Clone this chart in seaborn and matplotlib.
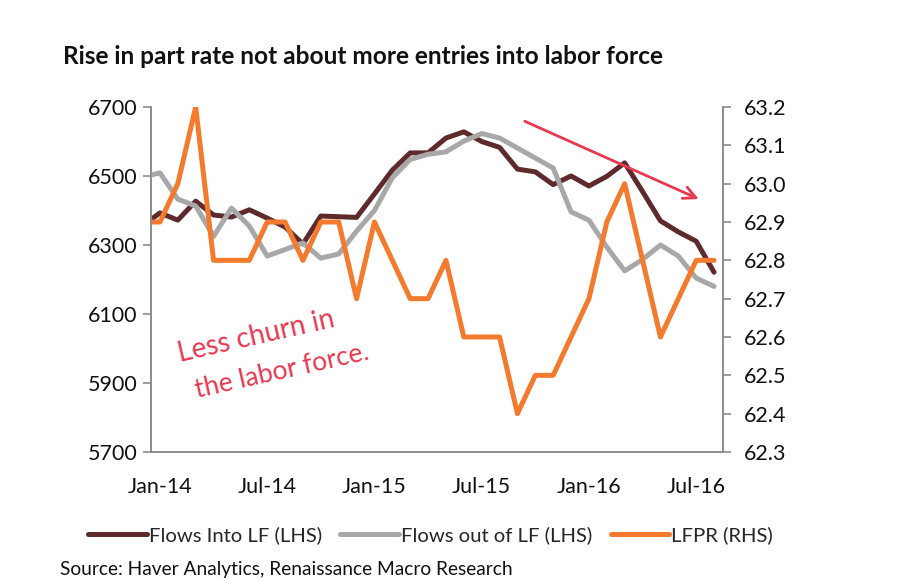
import pandas as pd
import matplotlib.pyplot as plt
import seaborn as sns

# monthly data, Dec-13 .. Aug-16 (Dec-13 only feeds the clipped edge of each line)
months = pd.date_range("2013-12-01", periods=33, freq="MS")
flows_into = [6355, 6393, 6372, 6427, 6387, 6381, 6402, 6378, 6352, 6303, 6384, 6382,
              6380, 6448, 6517, 6567, 6567, 6610, 6628, 6600, 6583, 6520, 6512, 6475,
              6500, 6471, 6499, 6538, 6455, 6370, 6338, 6311, 6221]
flows_out = [6497, 6509, 6433, 6413, 6325, 6407, 6355, 6268, 6287, 6306, 6262, 6274,
             6340, 6400, 6495, 6548, 6563, 6570, 6601, 6623, 6610, 6581, 6552, 6523,
             6396, 6372, 6294, 6225, 6258, 6300, 6268, 6204, 6180]
lfpr = [62.9, 62.9, 63.0, 63.2, 62.8, 62.8, 62.8, 62.9, 62.9, 62.8, 62.9, 62.9,
        62.7, 62.9, 62.8, 62.7, 62.7, 62.8, 62.6, 62.6, 62.6, 62.4, 62.5, 62.5,
        62.6, 62.7, 62.9, 63.0, 62.8, 62.6, 62.7, 62.8, 62.8]
tick_labels = ["Jan-14", "Jul-14", "Jan-15", "Jul-15", "Jan-16", "Jul-16"]

c_into = "#5e2a2b"
c_out = "#a8a8a8"
c_lfpr = "#f47a2e"
c_note = "#e8394f"
c_axis = "#8c8c8c"

df = pd.DataFrame({"month": months, "into": flows_into, "out": flows_out, "lfpr": lfpr})
df["m"] = range(-1, len(df) - 1)   # Jan-14 = 0

sns.set_style("white")
plt.rcParams["font.family"] = ["Lato", "DejaVu Sans"]

fig = plt.figure(figsize=(9.06, 5.8), dpi=100)
ax = fig.add_axes([151 / 906, 1 - 452 / 580, 572 / 906, 345 / 580])
ax2 = ax.twinx()

sns.lineplot(data=df, x="m", y="into", ax=ax, color=c_into, lw=3.6,
             label="Flows Into LF (LHS)", legend=False)
sns.lineplot(data=df, x="m", y="out", ax=ax, color=c_out, lw=3.6,
             label="Flows out of LF (LHS)", legend=False)
sns.lineplot(data=df, x="m", y="lfpr", ax=ax2, color=c_lfpr, lw=3.6,
             label="LFPR (RHS)", legend=False)

ax.set_xlim(-0.5, 31.5)
ax.set_ylim(5700, 6700)
ax2.set_ylim(62.3, 63.2)
ax.set_yticks(range(5700, 6701, 200))
ax2.set_yticks([62.3 + 0.1 * i for i in range(10)])
ax2.set_yticklabels([f"{62.3 + 0.1 * i:.1f}" for i in range(10)])

ax.set_xticks([0, 6, 12, 18, 24, 30])
ax.set_xticklabels(tick_labels)
ax.set_xticks([-0.5 + 6 * i for i in range(6)], minor=True)
ax.tick_params(axis="x", which="major", length=0, pad=18, labelsize=15.5, colors="#111111")
ax.tick_params(axis="x", which="minor", length=7, width=1.2, color=c_axis, direction="out")
ax.tick_params(axis="y", length=6, width=1.2, color=c_axis, direction="out", pad=4,
               labelsize=15.5, labelcolor="#111111")
ax2.tick_params(axis="y", length=6, width=1.2, color=c_axis, direction="out", pad=9,
                labelsize=15.5, labelcolor="#111111")
ax.tick_params(left=True, bottom=True)
ax2.tick_params(right=True)

for a in (ax, ax2):
    a.set_xlabel("")
    a.set_ylabel("")
    a.grid(False)
    a.spines["top"].set_visible(False)
    for s in ("left", "right", "bottom"):
        a.spines[s].set_color(c_axis)
        a.spines[s].set_linewidth(1.2)

# hand-drawn notes
ax.text(0.051, 0.261, "Less churn in", transform=ax.transAxes, color=c_note,
        fontsize=20, rotation=12.8, rotation_mode="anchor", va="baseline", ha="left")
ax.text(0.080, 0.157, "the labor force.", transform=ax.transAxes, color=c_note,
        fontsize=19, rotation=12.6, rotation_mode="anchor", va="baseline", ha="left")
ax.annotate("", xy=(0.962, 0.73), xytext=(0.649, 0.962), xycoords="axes fraction",
            arrowprops=dict(arrowstyle="->", color=c_note, lw=2, mutation_scale=22))

fig.text(63 / 906, 1 - 57 / 580, "Rise in part rate not about more entries into labor force",
         fontsize=17.6, fontweight="bold", va="center", ha="left", color="#111111")
fig.text(60 / 906, 1 - 569 / 580, "Source: Haver Analytics, Renaissance Macro Research",
         fontsize=13.8, va="center", ha="left", color="#111111")

h1, l1 = ax.get_legend_handles_labels()
h2, l2 = ax2.get_legend_handles_labels()
fig.legend(h1 + h2, l1 + l2, loc="center left", bbox_to_anchor=(88 / 906, 1 - 535 / 580),
           ncol=3, frameon=False, fontsize=14.6, handlelength=2.9, handletextpad=0.1,
           columnspacing=0.9, borderpad=0, borderaxespad=0)

fig.savefig("out.png", dpi=100)
